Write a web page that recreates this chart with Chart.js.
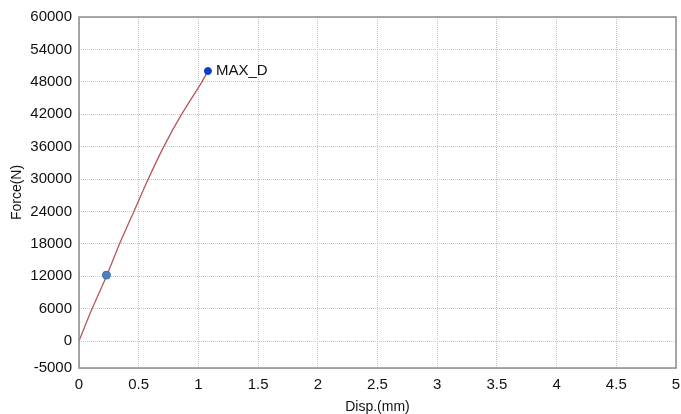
<!DOCTYPE html>
<html>
<head>
<meta charset="utf-8">
<script src="https://cdn.jsdelivr.net/npm/chart.js@4"></script>
<style>
    html, body { margin: 0; padding: 0; background: #fff; }
    #wrap { width: 681px; height: 414px; }
</style>
</head>
<body>
<div id="wrap"><canvas id="forceChart" width="681" height="414"></canvas></div>
<script>
// Data
const disp = [0, 0.11, 0.23, 0.34, 0.46, 0.58, 0.71, 0.86, 1.03, 1.08];
const force = [0, 6000, 12000, 18000, 24000, 30000, 36000, 42000, 48000, 50000];
const markerPoint = { x: 0.23, y: 12200 };
const maxPoint = { x: 1.08, y: 50000 };
const maxLabel = "MAX_D";
const yTicks = [-5000, 0, 6000, 12000, 18000, 24000, 30000, 36000, 42000, 48000, 54000, 60000];

const FONT = "Arial, 'Liberation Sans', sans-serif";

// Box round the plot + MAX_D label
const framePlugin = {
    id: "frame",
    afterDatasetsDraw(chart) {
        const { ctx, chartArea: a, scales } = chart;
        ctx.save();
        ctx.strokeStyle = "#8c8c8c";
        ctx.lineWidth = 1.5;
        ctx.strokeRect(a.left, a.top, a.right - a.left, a.bottom - a.top);
        ctx.fillStyle = "#111";
        ctx.font = "15px " + FONT;
        ctx.textBaseline = "middle";
        ctx.fillText(
            maxLabel,
            scales.x.getPixelForValue(maxPoint.x) + 8,
            scales.y.getPixelForValue(maxPoint.y)
        );
        ctx.restore();
    },
};

const ctx = document.getElementById("forceChart").getContext("2d");
const forceChart = new Chart(ctx, {
    type: "scatter",
    data: {
        datasets: [
            {
                data: disp.map((d, i) => ({ x: d, y: force[i] })),
                showLine: true,
                borderColor: "#b5575a",
                borderWidth: 1.3,
                pointRadius: 0,
                tension: 0.2,
                order: 2,
            },
            {
                data: [markerPoint],
                pointRadius: 4,
                pointBackgroundColor: "#4c80bf",
                pointBorderColor: "#3f6fa8",
                order: 1,
            },
            {
                data: [maxPoint],
                pointRadius: 3.5,
                pointBackgroundColor: "#0d3fc4",
                pointBorderColor: "#0d3fc4",
                order: 1,
            },
        ],
    },
    options: {
        responsive: false,
        animation: false,
        layout: {
            padding: { top: 17, right: 0, left: 0, bottom: 0 },
        },
        plugins: {
            legend: { display: false },
            tooltip: { enabled: false },
        },
        scales: {
            x: {
                type: "linear",
                min: 0,
                max: 5,
                ticks: {
                    stepSize: 0.5,
                    color: "#111",
                    padding: 8,
                    maxRotation: 0,
                    font: { size: 15, family: FONT },
                    callback: function (value) {
                        return String(value);
                    },
                },
                grid: {
                    color: "#c4c4c4",
                    drawTicks: false,
                },
                border: { display: false, dash: [1, 1] },
                title: {
                    display: true,
                    text: "Disp.(mm)",
                    color: "#111",
                    padding: { top: 0, bottom: -2 },
                    font: { size: 14, family: FONT },
                },
                afterFit: function (axis) {
                    axis.height = 46;
                    axis.paddingRight = 3;
                },
            },
            y: {
                min: -5000,
                max: 60000,
                afterBuildTicks: function (axis) {
                    axis.ticks = yTicks.map((v) => ({ value: v }));
                },
                ticks: {
                    color: "#111",
                    padding: 7,
                    font: { size: 15, family: FONT },
                    callback: function (value) {
                        return String(value);
                    },
                },
                grid: {
                    color: "#c4c4c4",
                    drawTicks: false,
                },
                border: { display: false, dash: [1, 1] },
                title: {
                    display: true,
                    text: "Force(N)",
                    color: "#111",
                    padding: { top: 9, bottom: 0 },
                    font: { size: 14, family: FONT },
                },
                afterFit: function (axis) {
                    axis.width = 79;
                    axis.paddingTop = 0;
                    axis.paddingBottom = 0;
                },
            },
        },
    },
    plugins: [framePlugin],
});
</script>
</body>
</html>
